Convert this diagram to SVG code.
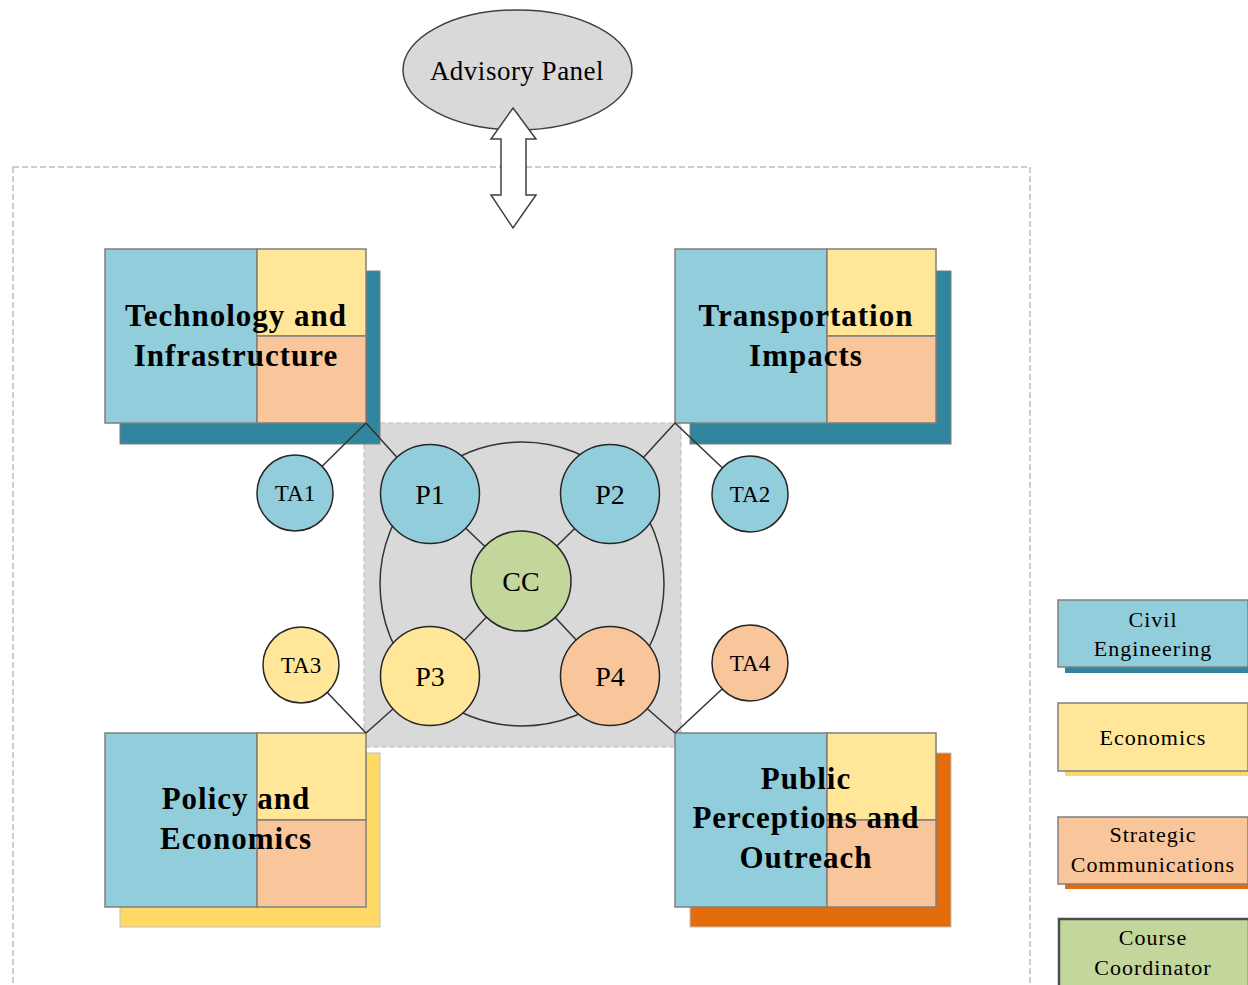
<svg xmlns="http://www.w3.org/2000/svg" width="1248" height="985" viewBox="0 0 1248 985">
<style>
.bx{stroke:#7f7f7f;stroke-width:1.5}
.blue{fill:#92cddc}
.yel{fill:#ffe699}
.pch{fill:#f9c59a}
.circ{stroke:#262626;stroke-width:1.5}
.ln{stroke:#333;stroke-width:1.5;fill:none}
.tt{font-family:"Liberation Serif","Times New Roman",serif;font-weight:bold;font-size:31px;letter-spacing:1px;text-anchor:middle;fill:#000}
.pt{font-family:"Liberation Serif","Times New Roman",serif;font-size:28px;text-anchor:middle;fill:#000}
.ta{font-family:"Liberation Serif","Times New Roman",serif;font-size:23px;text-anchor:middle;fill:#000}
.lg{font-family:"Liberation Serif","Times New Roman",serif;font-size:22px;letter-spacing:1px;text-anchor:middle;fill:#000}
</style>
<rect width="1248" height="985" fill="#fff"/>
<g id="frame">
<rect x="13" y="167" width="1017" height="840" fill="none" stroke="#bfbfbf" stroke-width="1.5" stroke-dasharray="6,3"/>
</g>
<g id="center-area">
<rect x="364" y="423" width="317" height="324" fill="#d9d9d9" stroke="#bfbfbf" stroke-width="1.2" stroke-dasharray="5,3"/>
<circle cx="522" cy="584" r="142" class="ln"/>
</g>
<g id="advisory-panel">
<ellipse cx="517.5" cy="70" rx="114.5" ry="60" fill="#d9d9d9" stroke="#404040" stroke-width="1.5"/>
<text x="517" y="80" class="pt" style="font-size:27px;letter-spacing:0.5px">Advisory Panel</text>
</g>
<g id="box-tech">
<rect x="120" y="271" width="260" height="173" fill="#31859c" stroke="#7f7f7f" stroke-width="1"/>
<rect x="105" y="249" width="152" height="174" class="bx blue"/>
<rect x="257" y="249" width="109" height="87" class="bx yel"/>
<rect x="257" y="336" width="109" height="87" class="bx pch"/>
<text x="236" y="326" class="tt">Technology and</text>
<text x="236" y="366" class="tt">Infrastructure</text>
</g>
<g id="box-transport">
<rect x="690" y="271" width="261" height="173" fill="#31859c" stroke="#7f7f7f" stroke-width="1"/>
<rect x="675" y="249" width="152" height="174" class="bx blue"/>
<rect x="827" y="249" width="109" height="87" class="bx yel"/>
<rect x="827" y="336" width="109" height="87" class="bx pch"/>
<text x="806" y="326" class="tt">Transportation</text>
<text x="806" y="366" class="tt">Impacts</text>
</g>
<g id="box-policy">
<rect x="120" y="753" width="260" height="174" fill="#ffd966" stroke="#bfbfbf" stroke-width="1"/>
<rect x="105" y="733" width="152" height="174" class="bx blue"/>
<rect x="257" y="733" width="109" height="87" class="bx yel"/>
<rect x="257" y="820" width="109" height="87" class="bx pch"/>
<text x="236" y="809" class="tt">Policy and</text>
<text x="236" y="849" class="tt">Economics</text>
</g>
<g id="box-public">
<rect x="690" y="753" width="261" height="174" fill="#e46c0a" stroke="#bfbfbf" stroke-width="1"/>
<rect x="675" y="733" width="152" height="174" class="bx blue"/>
<rect x="827" y="733" width="109" height="87" class="bx yel"/>
<rect x="827" y="820" width="109" height="87" class="bx pch"/>
<text x="806" y="789" class="tt">Public</text>
<text x="806" y="828" class="tt">Perceptions and</text>
<text x="806" y="868" class="tt">Outreach</text>
</g>
<g id="connectors">
<polygon points="513,108 536,139 526,139 526,195 536,195 513,228 491,195 501,195 501,139 491,139" fill="#fff" stroke="#404040" stroke-width="1.5"/>
<line x1="366" y1="423" x2="430" y2="494" class="ln"/>
<line x1="366" y1="423" x2="295" y2="493" class="ln"/>
<line x1="675" y1="423" x2="610" y2="494" class="ln"/>
<line x1="675" y1="423" x2="750" y2="494" class="ln"/>
<line x1="366" y1="733" x2="430" y2="676" class="ln"/>
<line x1="366" y1="733" x2="301" y2="665" class="ln"/>
<line x1="675" y1="733" x2="610" y2="676" class="ln"/>
<line x1="675" y1="733" x2="750" y2="663" class="ln"/>
<line x1="521" y1="581" x2="430" y2="494" class="ln"/>
<line x1="521" y1="581" x2="610" y2="494" class="ln"/>
<line x1="521" y1="581" x2="430" y2="676" class="ln"/>
<line x1="521" y1="581" x2="610" y2="676" class="ln"/>
</g>
<g id="P1"><circle cx="430" cy="494" r="49.5" class="circ blue"/><text x="430" y="504" class="pt">P1</text></g>
<g id="P2"><circle cx="610" cy="494" r="49.5" class="circ blue"/><text x="610" y="504" class="pt">P2</text></g>
<g id="P3"><circle cx="430" cy="676" r="49.5" class="circ yel"/><text x="430" y="686" class="pt">P3</text></g>
<g id="P4"><circle cx="610" cy="676" r="49.5" class="circ pch"/><text x="610" y="686" class="pt">P4</text></g>
<g id="CC"><circle cx="521" cy="581" r="50" class="circ" fill="#c3d69b"/><text x="521" y="591" class="pt">CC</text></g>
<g id="TA1"><circle cx="295" cy="493" r="38" class="circ blue"/><text x="295" y="501" class="ta">TA1</text></g>
<g id="TA2"><circle cx="750" cy="494" r="38" class="circ blue"/><text x="750" y="502" class="ta">TA2</text></g>
<g id="TA3"><circle cx="301" cy="665" r="38" class="circ yel"/><text x="301" y="673" class="ta">TA3</text></g>
<g id="TA4"><circle cx="750" cy="663" r="38" class="circ pch"/><text x="750" y="671" class="ta">TA4</text></g>
<g id="legend-civil">
<rect x="1065" y="607" width="190" height="66" fill="#31859c"/>
<rect x="1058" y="600" width="190" height="67" class="bx blue"/>
<text x="1153" y="627" class="lg">Civil</text>
<text x="1153" y="656" class="lg">Engineering</text>
</g>
<g id="legend-econ">
<rect x="1065" y="710" width="190" height="66" fill="#ffd966"/>
<rect x="1058" y="703" width="190" height="68" class="bx yel"/>
<text x="1153" y="745" class="lg">Economics</text>
</g>
<g id="legend-strat">
<rect x="1065" y="823" width="190" height="66" fill="#e46c0a"/>
<rect x="1058" y="817" width="190" height="67" class="bx pch"/>
<text x="1153" y="842" class="lg">Strategic</text>
<text x="1153" y="872" class="lg">Communications</text>
</g>
<g id="legend-cc">
<rect x="1059" y="919" width="190" height="80" fill="#c3d69b" stroke="#4d4d4d" stroke-width="2.5"/>
<text x="1153" y="945" class="lg">Course</text>
<text x="1153" y="975" class="lg">Coordinator</text>
</g>
</svg>
